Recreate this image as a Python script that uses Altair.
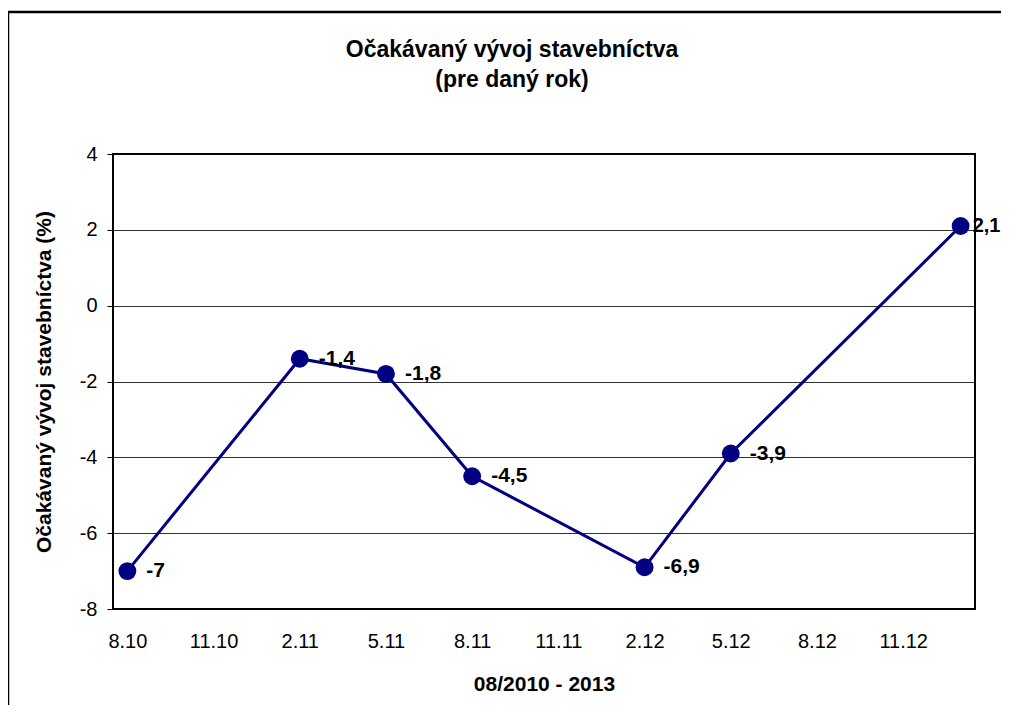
import json
import altair as alt
import pandas as pd

# month index since 08/2010
months = [0, 6, 9, 12, 18, 21, 29]
values = [-7.0, -1.4, -1.8, -4.5, -6.9, -3.9, 2.1]

tick_positions = [0, 3, 6, 9, 12, 15, 18, 21, 24, 27]
tick_labels = ["8.10", "11.10", "2.11", "5.11", "8.11", "11.11", "2.12", "5.12", "8.12", "11.12"]

title_lines = ["Očakávaný vývoj stavebníctva", "(pre daný rok)"]

df = pd.DataFrame({"m": months, "v": values})
df["lab"] = [f"{v:g}".replace(".", ",") for v in values]

title_df = pd.DataFrame({"t": ["\n".join(title_lines)]})

FONT = "Liberation Sans"
NAVY = "#000080"
LAST = months[-1]

label_expr = f"{json.dumps(tick_labels)}[round(datum.value / 3)]"

x = alt.X(
    "m:Q",
    scale=alt.Scale(domain=[-0.5, 29.5], nice=False, zero=False),
    axis=alt.Axis(
        values=tick_positions,
        labelExpr=label_expr,
        title="08/2010 - 2013",
        grid=False,
        ticks=False,
        tickSize=0,
        domain=False,
        labelPadding=22,
        labelFontSize=20,
        labelFont=FONT,
        labelColor="black",
        titleFont=FONT,
        titleFontSize=21,
        titleFontWeight="bold",
        titleColor="black",
        titleY=75,
        titleBaseline="middle",
    ),
)
y = alt.Y(
    "v:Q",
    scale=alt.Scale(domain=[-8, 4], nice=False),
    axis=alt.Axis(
        values=[-8, -6, -4, -2, 0, 2, 4],
        labelExpr="datum.value + ''",
        title="Očakávaný vývoj stavebníctva (%)",
        grid=True,
        gridColor="#333333",
        gridWidth=1,
        ticks=True,
        tickSize=6,
        tickColor="black",
        tickWidth=1,
        domain=False,
        labelPadding=10,
        labelFontSize=20,
        labelFont=FONT,
        labelColor="black",
        titleFont=FONT,
        titleFontSize=21,
        titleFontWeight="bold",
        titleColor="black",
        titleAngle=270,
        titleX=-69,
        titleY=227.5,
        titleAlign="center",
        titleBaseline="middle",
    ),
)

base = alt.Chart(df)

# outer chart frame (decoration): top and left edges only, the rest runs off the page
border_top = alt.Chart(title_df).mark_rule(
    stroke="black", strokeWidth=2.5, clip=False
).encode(x=alt.value(-105), x2=alt.value(1000), y=alt.value(-142))
border_left = alt.Chart(title_df).mark_rule(
    stroke="black", strokeWidth=2.5, clip=False
).encode(x=alt.value(-105), y=alt.value(-142), y2=alt.value(720))

# plot-area frame (decoration)
frame = alt.Chart(title_df).mark_rect(
    fill=None, stroke="black", strokeWidth=2, clip=False
).encode(
    x=alt.value(0), x2=alt.value(862), y=alt.value(0), y2=alt.value(455)
)

title = alt.Chart(title_df).mark_text(
    align="center", baseline="middle", lineBreak="\n", lineHeight=30,
    font=FONT, fontSize=23, fontWeight="bold", color="black"
).encode(x=alt.value(399), y=alt.value(-104), text="t:N")

line = base.mark_line(color=NAVY, strokeWidth=3).encode(x=x, y=y)
pts = base.mark_circle(color=NAVY, size=320, opacity=1).encode(x=x, y=y)
labels = base.transform_filter(f"datum.m < {LAST}").mark_text(
    align="left", baseline="middle", dx=19, font=FONT, fontSize=21,
    fontWeight="bold", color="black"
).encode(x=x, y=y, text="lab:N")
last_label = base.transform_filter(f"datum.m >= {LAST}").mark_text(
    align="left", baseline="middle", dx=12, font=FONT, fontSize=20,
    fontWeight="bold", color="black"
).encode(x=x, y=y, text="lab:N")

chart = (
    alt.layer(border_top, border_left, frame, line, pts, labels, last_label, title)
    .properties(
        width=862,
        height=455,
        padding={"left": 105, "top": 146, "right": 26, "bottom": 96},
        autosize=alt.AutoSizeParams(type="none"),
    )
    .configure_view(stroke=None)
    .configure(background="white")
)

chart.save("out.html", embed_options={"renderer": "svg", "actions": False})
